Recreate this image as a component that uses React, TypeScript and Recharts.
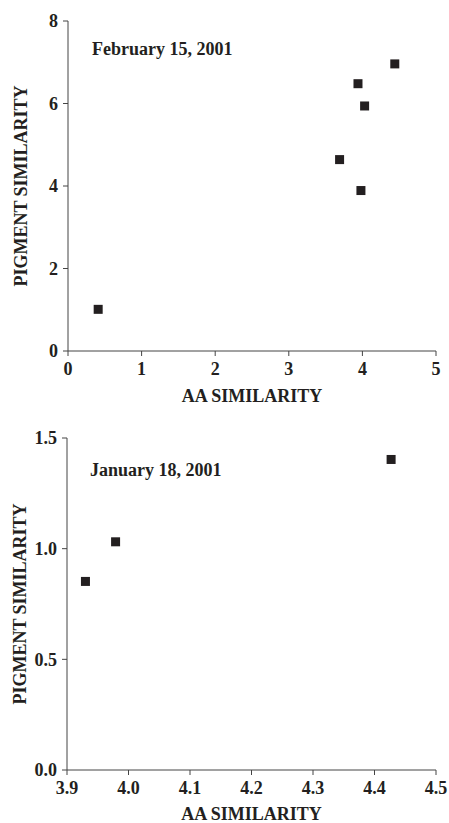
import { ScatterChart, Scatter, XAxis, YAxis } from 'recharts';

// February 15, 2001
const febAA = [0.41, 3.69, 3.94, 4.03, 3.98, 4.44];
const febPigment = [1.01, 4.64, 6.48, 5.94, 3.89, 6.96];
const febXTicks = [0, 1, 2, 3, 4, 5];
const febYTicks = [0, 2, 4, 6, 8];

// January 18, 2001
const janAA = [3.93, 3.979, 4.427];
const janPigment = [0.852, 1.031, 1.403];
const janXTicks = [3.9, 4.0, 4.1, 4.2, 4.3, 4.4, 4.5];
const janYTicks = [0, 0.5, 1.0, 1.5];

const font = 'Liberation Serif, Times New Roman, serif';
const ink = '#231f20';
const axisColor = '#444';

const textStyle = { fontFamily: font, fontWeight: 700, fontSize: 18, fill: ink };

const febData = febAA.map((x, i) => ({ x, y: febPigment[i] }));
const janData = janAA.map((x, i) => ({ x, y: janPigment[i] }));

const SquareDot = (props: any) => {
  const { cx, cy } = props;
  if (cx == null || cy == null) return null;
  return <rect x={cx - 4.5} y={cy - 4.5} width={9} height={9} fill={ink} />;
};

const tickProps = { ...textStyle, style: textStyle };

export default function App() {
  return (
    <div style={{ position: 'absolute', left: 0, top: 0, width: 449, height: 823, background: '#fff', fontFamily: font, fontWeight: 700 }}>
      <div style={{ position: 'absolute', left: 0, top: 0 }}>
        <ScatterChart width={449} height={410} margin={{ top: 21, right: 13, bottom: 9, left: 0 }} style={{ fontFamily: font }}>
          <XAxis
            type="number"
            dataKey="x"
            domain={[0, 5]}
            ticks={febXTicks}
            height={50}
            tickSize={5}
            tickMargin={6}
            stroke={axisColor}
            tick={tickProps}
            label={{ value: 'AA SIMILARITY', position: 'insideBottom', offset: -1, style: textStyle, fontFamily: font }}
          />
          <YAxis
            type="number"
            dataKey="y"
            domain={[0, 8]}
            ticks={febYTicks}
            width={68}
            tickSize={5}
            tickMargin={5}
            stroke={axisColor}
            tick={tickProps}
            label={{ value: 'PIGMENT SIMILARITY', angle: -90, position: 'insideLeft', offset: 21, style: { ...textStyle, textAnchor: 'middle' } }}
          />
          <Scatter data={febData} shape={SquareDot} isAnimationActive={false} />
        </ScatterChart>
        <svg width={449} height={410} style={{ position: 'absolute', left: 0, top: 0, pointerEvents: 'none' }}>
          <text x={92} y={55} style={textStyle}>
            February 15, 2001
          </text>
        </svg>
      </div>
      <div style={{ position: 'absolute', left: 0, top: 410 }}>
        <ScatterChart width={449} height={413} margin={{ top: 28, right: 13, bottom: 3, left: 0 }} style={{ fontFamily: font }}>
          <XAxis
            type="number"
            dataKey="x"
            domain={[3.9, 4.5]}
            ticks={janXTicks}
            height={50}
            tickSize={5}
            tickMargin={6}
            stroke={axisColor}
            tick={tickProps}
            tickFormatter={(v: number) => v.toFixed(1)}
            label={{ value: 'AA SIMILARITY', position: 'insideBottom', offset: 0, style: textStyle }}
          />
          <YAxis
            type="number"
            dataKey="y"
            domain={[0, 1.5]}
            ticks={janYTicks}
            width={67}
            tickSize={5}
            tickMargin={5}
            stroke={axisColor}
            tick={tickProps}
            tickFormatter={(v: number) => v.toFixed(1)}
            label={{ value: 'PIGMENT SIMILARITY', angle: -90, position: 'insideLeft', offset: 20, style: { ...textStyle, textAnchor: 'middle' } }}
          />
          <Scatter data={janData} shape={SquareDot} isAnimationActive={false} />
        </ScatterChart>
        <svg width={449} height={413} style={{ position: 'absolute', left: 0, top: 0, pointerEvents: 'none' }}>
          <text x={90} y={66} style={textStyle}>
            January 18, 2001
          </text>
        </svg>
      </div>
    </div>
  );
}
